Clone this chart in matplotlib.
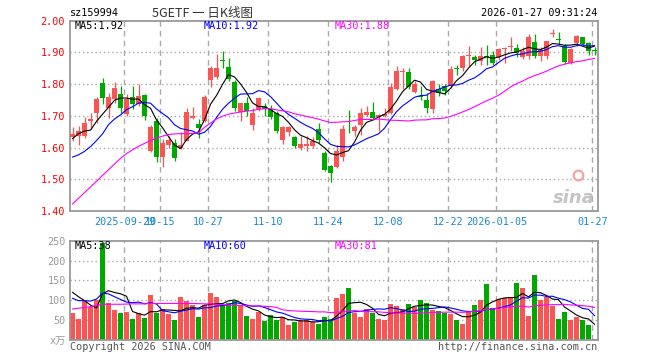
import numpy as np
import pandas as pd
import matplotlib
matplotlib.use("Agg")
import matplotlib.pyplot as plt

# trading calendar (market closed on these weekdays)
holidays = ["2025-10-01", "2025-10-02", "2025-10-03", "2025-10-06", "2025-10-07",
            "2025-10-08", "2026-01-01", "2026-01-02"]
dates = pd.bdate_range("2025-09-16", "2026-01-27", freq="C", holidays=holidays)

tick_dates = ["2025-09-29", "2025-10-15", "2025-10-27", "2025-11-10", "2025-11-24",
              "2025-12-08", "2025-12-22", "2026-01-05", "2026-01-27"]
tick_labels = ["2025-09-29", "10-15", "10-27", "11-10", "11-24",
               "12-08", "12-22", "2026-01-05", "01-27"]

opens = [1.633, 1.638, 1.638, 1.685, 1.709, 1.804, 1.725, 1.753, 1.770, 1.706,
         1.759, 1.737, 1.765, 1.590, 1.683, 1.569, 1.608, 1.615, 1.598, 1.622,
         1.694, 1.674, 1.685, 1.813, 1.822, 1.877, 1.855, 1.808, 1.712, 1.740,
         1.672, 1.722, 1.731, 1.722, 1.709, 1.625, 1.649, 1.633, 1.599, 1.604,
         1.604, 1.658, 1.583, 1.543, 1.540, 1.569, 1.656, 1.653, 1.670, 1.702,
         1.712, 1.697, 1.700, 1.709, 1.785, 1.839, 1.838, 1.775, 1.763, 1.750,
         1.721, 1.786, 1.793, 1.793, 1.849, 1.851, 1.889, 1.885, 1.872, 1.890,
         1.891, 1.884, 1.910, 1.918, 1.915, 1.887, 1.890, 1.933, 1.890, 1.888,
         1.958, 1.941, 1.921, 1.867, 1.930, 1.948, 1.930, 1.909]
highs = [1.665, 1.667, 1.697, 1.709, 1.758, 1.820, 1.772, 1.808, 1.795, 1.770,
         1.795, 1.800, 1.768, 1.672, 1.693, 1.626, 1.635, 1.626, 1.650, 1.724,
         1.728, 1.690, 1.767, 1.857, 1.895, 1.904, 1.883, 1.814, 1.742, 1.759,
         1.725, 1.759, 1.740, 1.733, 1.714, 1.669, 1.669, 1.635, 1.635, 1.635,
         1.633, 1.676, 1.588, 1.546, 1.609, 1.670, 1.717, 1.672, 1.725, 1.730,
         1.743, 1.705, 1.725, 1.803, 1.858, 1.850, 1.850, 1.809, 1.793, 1.772,
         1.814, 1.800, 1.800, 1.858, 1.861, 1.893, 1.921, 1.891, 1.916, 1.922,
         1.903, 1.914, 1.916, 1.948, 1.926, 1.916, 1.959, 1.958, 1.917, 1.937,
         1.975, 1.963, 1.926, 1.914, 1.954, 1.950, 1.933, 1.917]
lows = [1.622, 1.609, 1.630, 1.660, 1.677, 1.737, 1.693, 1.740, 1.710, 1.700,
        1.722, 1.730, 1.688, 1.585, 1.554, 1.540, 1.600, 1.559, 1.596, 1.620,
        1.690, 1.630, 1.680, 1.792, 1.815, 1.850, 1.809, 1.714, 1.683, 1.698,
        1.656, 1.714, 1.698, 1.690, 1.646, 1.611, 1.635, 1.598, 1.593, 1.590,
        1.600, 1.613, 1.525, 1.490, 1.535, 1.557, 1.646, 1.635, 1.640, 1.700,
        1.688, 1.651, 1.697, 1.705, 1.780, 1.785, 1.785, 1.772, 1.750, 1.709,
        1.710, 1.763, 1.765, 1.788, 1.830, 1.840, 1.858, 1.861, 1.861, 1.861,
        1.860, 1.876, 1.866, 1.905, 1.884, 1.880, 1.880, 1.882, 1.874, 1.880,
        1.950, 1.925, 1.863, 1.865, 1.920, 1.923, 1.893, 1.893]
closes = [1.643, 1.651, 1.676, 1.690, 1.753, 1.756, 1.759, 1.788, 1.725, 1.753,
          1.737, 1.763, 1.700, 1.666, 1.569, 1.615, 1.624, 1.567, 1.608, 1.712,
          1.700, 1.662, 1.759, 1.850, 1.850, 1.874, 1.816, 1.724, 1.740, 1.716,
          1.709, 1.757, 1.722, 1.697, 1.651, 1.665, 1.664, 1.604, 1.611, 1.612,
          1.620, 1.624, 1.530, 1.521, 1.588, 1.658, 1.654, 1.664, 1.709, 1.712,
          1.693, 1.703, 1.707, 1.790, 1.840, 1.841, 1.790, 1.801, 1.761, 1.725,
          1.811, 1.772, 1.777, 1.848, 1.847, 1.890, 1.891, 1.876, 1.890, 1.884,
          1.866, 1.910, 1.912, 1.920, 1.898, 1.903, 1.948, 1.888, 1.909, 1.935,
          1.960, 1.939, 1.870, 1.911, 1.951, 1.928, 1.906, 1.905]
volumes = [68, 53, 98, 84, 100, 245, 94, 75, 67.5, 70,
           52.5, 67.5, 55, 112.5, 67.5, 77.5, 65, 50, 107.5, 98,
           87.5, 57.5, 87.5, 117.5, 107.5, 87.5, 92.5, 99, 85, 60,
           52.5, 70, 47.5, 62.5, 50, 57.5, 37.5, 45, 50, 50,
           45, 40, 57.5, 52.5, 105, 115, 130, 67.5, 57.5, 77.5,
           67.5, 52.5, 50, 90, 85, 77.5, 90, 82.5, 100, 92.5,
           75, 72.5, 67.5, 65, 50, 40, 70, 87.5, 101.7, 140,
           80, 103, 105, 106, 142.5, 130, 60, 162.5, 100, 108,
           85, 52.5, 70, 50, 57.5, 50, 37.5, 2.5]

# moving-average values at the left edge (their windows start before the first bar)
ma5_head = [1.628, 1.644, 1.652, 1.655]
ma10_head = [1.570, 1.577, 1.588, 1.603, 1.622, 1.643, 1.672, 1.690, 1.703]
ma30_head = [1.422, 1.440, 1.458, 1.476, 1.494, 1.512, 1.530, 1.548, 1.566, 1.581,
             1.593, 1.604, 1.613, 1.622, 1.630, 1.636, 1.641, 1.643, 1.644, 1.644,
             1.645, 1.647, 1.664, 1.677, 1.690, 1.699, 1.705, 1.709, 1.712]
vma5_head = [120, 109, 99, 88]
vma10_head = [105, 99, 99, 98, 103, 118, 116, 109, 102]
vma30_head = [78, 80, 82, 84, 87, 90, 90, 90, 90, 90.5, 91, 91, 91, 92, 92, 92, 92,
              92, 92, 92, 92, 91.5, 91, 91, 90, 89, 88, 87.5, 87]

RED = "#fa5454"
GREEN = "#00a800"
GRID = "#aaaaaa"
MONO = ["DejaVu Sans Mono", "Noto Sans CJK SC"]


def moving_avg(values, n, head):
    ma = pd.Series(values, dtype=float).rolling(n).mean().to_numpy()
    ma[:n - 1] = head
    return ma


def px(x, y):
    return x / 660, 1 - y / 360


x = np.arange(len(closes))
o, h, l, c = map(np.array, (opens, highs, lows, closes))
colors = [RED if cc >= oo else GREEN for oo, cc in zip(o, c)]
tick_pos = [dates.get_loc(pd.Timestamp(d)) - 0.35 for d in tick_dates]
xlim = (-2.5 / 6, len(x) - 1 + 3.2 / 6)

fig = plt.figure(figsize=(6.6, 3.6), dpi=100)
ax = fig.add_axes([70 / 660, 1 - 211 / 360, 527.7 / 660, 190.3 / 360])
axv = fig.add_axes([70 / 660, 1 - 340 / 360, 527.7 / 660, 99.3 / 360])

for a in (ax, axv):
    a.set_xlim(*xlim)
    for s in a.spines.values():
        s.set_color("#999999")
        s.set_linewidth(1.3)
    for tp in tick_pos:
        a.axvline(tp, color=GRID, lw=1.0, ls=(0, (4, 3)), zorder=0)

# price panel
ax.set_ylim(1.40, 2.00)
for yv in [1.5, 1.6, 1.7, 1.8, 1.9]:
    ax.axhline(yv, color=GRID, lw=1.0, ls=(0, (1, 2)), zorder=0)
ax.vlines(x, l, h, colors=colors, lw=0.9, zorder=2)
body = np.maximum(np.abs(c - o), 0.0025)
ax.bar(x, body, bottom=np.minimum(o, c), width=5 / 6, color=colors, lw=0, zorder=3)
ax.plot(x, moving_avg(closes, 5, ma5_head), color="black", lw=0.8, zorder=4)
ax.plot(x, moving_avg(closes, 10, ma10_head), color="#0000ff", lw=0.8, zorder=4)
ax.plot(x, moving_avg(closes, 30, ma30_head), color="#ff00ff", lw=0.8, zorder=4)
ax.set_yticks([1.4, 1.5, 1.6, 1.7, 1.8, 1.9, 2.0])
ax.set_yticklabels([f"{v:.2f}" for v in [1.4, 1.5, 1.6, 1.7, 1.8, 1.9, 2.0]],
                   color="#ff0000", family=MONO, fontsize=7.3)
ax.set_xticks(tick_pos)
ax.set_xticklabels(tick_labels, color="#1a88d2", family=MONO, fontsize=7.3)
ax.tick_params(length=0, pad=3.6)
ax.tick_params(axis="x", pad=4.5)

# sina watermark
ax.text(0.955, 0.07, "sina", transform=ax.transAxes, ha="center", va="center",
        fontsize=13, fontweight="bold", style="italic", color="#c4c4c4", zorder=1)
ax.plot([0.962], [0.19], transform=ax.transAxes, marker="o", ms=7, mfc="none",
        mec="#f3a5a5", mew=1.6, zorder=1)

# volume panel
axv.set_ylim(0, 250)
for yv in [50, 100, 150, 200]:
    axv.axhline(yv, color=GRID, lw=1.0, ls=(0, (1, 2)), zorder=0)
axv.bar(x, volumes, width=5 / 6, color=colors, lw=0, zorder=2)
axv.plot(x, moving_avg(volumes, 5, vma5_head), color="black", lw=0.8, zorder=3)
axv.plot(x, moving_avg(volumes, 10, vma10_head), color="#0000ff", lw=0.8, zorder=3)
axv.plot(x, moving_avg(volumes, 30, vma30_head), color="#ff00ff", lw=0.8, zorder=3)
axv.set_xticks([])
axv.set_yticks([0, 50, 100, 150, 200, 250])
axv.set_yticklabels(["x万", "50", "100", "150", "200", "250"],
                    color="#999999", family=MONO, fontsize=7.3)
axv.tick_params(length=0, pad=3)

# texts
fig.text(*px(70, 13), "sz159994", family=MONO, fontsize=7.3, va="center", ha="left")
fig.text(*px(203, 13), "5GETF 一 日K线图", family=["Noto Sans CJK SC", "DejaVu Sans"],
         fontsize=9, va="center", ha="center", color="#333333")
fig.text(*px(597, 13), "2026-01-27 09:31:24", family=MONO, fontsize=7.3,
         va="center", ha="right")
fig.text(*px(75, 26), "MA5:1.92", family=MONO, fontsize=7.3, va="center", color="black")
fig.text(*px(204, 26), "MA10:1.92", family=MONO, fontsize=7.3, va="center", color="#0000ff")
fig.text(*px(335, 26), "MA30:1.88", family=MONO, fontsize=7.3, va="center", color="#ff00ff")
fig.text(*px(75, 246), "MA5:38", family=MONO, fontsize=7.3, va="center", color="black")
fig.text(*px(204, 246), "MA10:60", family=MONO, fontsize=7.3, va="center", color="#0000ff")
fig.text(*px(335, 246), "MA30:81", family=MONO, fontsize=7.3, va="center", color="#ff00ff")
fig.text(*px(70, 347), "Copyright 2026 SINA.COM", family=MONO, fontsize=7.3,
         va="center", ha="left", color="#555555")
fig.text(*px(597, 347), "http://finance.sina.com.cn", family=MONO, fontsize=7.3,
         va="center", ha="right", color="#555555")

fig.savefig("out.png", dpi=100)
